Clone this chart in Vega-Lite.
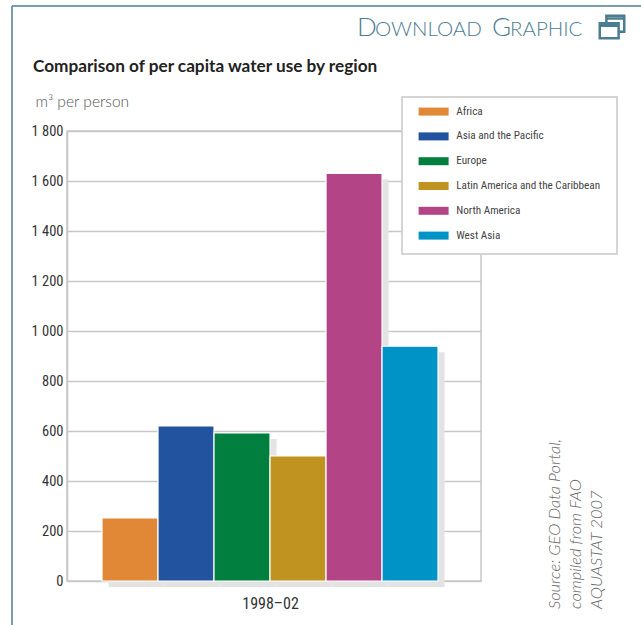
{
"$schema":"https://vega.github.io/schema/vega-lite/v6.json",
"width":414,"height":450,
"autosize":{"type":"none"},
"padding":{"left":67,"top":131,"right":160,"bottom":44},
"background":"white",
"config":{"view":{"stroke":"#c8c8c8","strokeWidth":1.5}},
"title":{"text":"Comparison of per capita water use by region","anchor":"start","frame":"group","dx":-34,"offset":-70,"font":"Lato","fontWeight":"bold","fontSize":17.2,"color":"#222222"},
"data":{"values":[
{"period":"1998–02","region":"Africa","use":252},
{"period":"1998–02","region":"Asia and the Pacific","use":620},
{"period":"1998–02","region":"Europe","use":592},
{"period":"1998–02","region":"Latin America and the Caribbean","use":500},
{"period":"1998–02","region":"North America","use":1630},
{"period":"1998–02","region":"West Asia","use":939}
]},
"layer":[
{"mark":{"type":"bar","color":"#e3e3e3","xOffset":6.5,"yOffset":6},
 "encoding":{
  "x":{"field":"region","type":"nominal","sort":null,"scale":{"paddingInner":0,"paddingOuter":0.696,"align":0.449},
   "axis":{"title":"1998–02","titleFont":"Roboto Condensed, Roboto","titleFontWeight":"normal","titleFontSize":16,"titleColor":"#333333","titleX":203,"titleY":14,"labels":false,"ticks":false,"domain":false,"grid":false}},
  "y":{"field":"use","type":"quantitative","scale":{"domain":[0,1800]},
   "axis":{"values":[0,200,400,600,800,1000,1200,1400,1600,1800],"labelExpr":"replace(format(datum.value,','),',',' ')","labelFont":"Roboto Condensed, Roboto","labelFontSize":14.5,"labelColor":"#333333","labelPadding":4,"ticks":false,"domainColor":"#c8c8c8","domainWidth":1.5,"gridColor":"#c8c8c8","gridWidth":1.5,"grid":true,
    "title":"m³ per person","titleAngle":0,"titleAlign":"left","titleBaseline":"alphabetic","titleX":-32,"titleY":-25,"titleFont":"Lato","titleFontWeight":300,"titleFontSize":15.5,"titleColor":"#555555"}}
 }},
{"mark":{"type":"bar","stroke":"white","strokeWidth":1.2},
 "encoding":{
  "x":{"field":"region","type":"nominal","sort":null},
  "y":{"field":"use","type":"quantitative"},
  "color":{"field":"region","type":"nominal","sort":null,
   "scale":{"domain":["Africa","Asia and the Pacific","Europe","Latin America and the Caribbean","North America","West Asia"],"range":["#e08835","#21539e","#007f3e","#c09320","#b34486","#0094c6"]},
   "legend":{"title":null,"orient":"none","legendX":361,"legendY":-25,"direction":"vertical",
    "symbolType":"M-3.75,-1H3.75V1H-3.75Z","symbolSize":64,"symbolStrokeWidth":0,"symbolOpacity":1,
    "labelFont":"Roboto Condensed, Roboto","labelFontSize":11.2,"labelColor":"#444444","labelOffset":17,"labelLimit":200,"rowPadding":12.8,"padding":0,"offset":0}}
 }},
{"data":{"values":[{"t":"box"}]},
 "mark":{"type":"rect","fill":"white","stroke":"#c8c8c8","strokeWidth":1.5},
 "encoding":{"x":{"value":335},"x2":{"value":550},"y":{"value":-34},"y2":{"value":123}}},
{"data":{"values":[{"note":"Source"}]},
 "mark":{"type":"text","text":["Source: GEO Data Portal,","compiled from FAO","AQUASTAT 2007"],"angle":270,"align":"left","baseline":"alphabetic","font":"Lato","fontStyle":"italic","fontWeight":300,"fontSize":16.5,"lineHeight":21,"color":"#666666"},
 "encoding":{"x":{"value":493},"y":{"value":478}}},
{"data":{"values":[{"t":"D"}]},
 "mark":{"type":"text","align":"left","baseline":"alphabetic","font":"Lato","fontWeight":300,"fontSize":26,"color":"#4b7d92"},
 "encoding":{"text":{"field":"t"},"x":{"value":290},"y":{"value":-95}}},
{"data":{"values":[{"t":"G"}]},
 "mark":{"type":"text","align":"left","baseline":"alphabetic","font":"Lato","fontWeight":300,"fontSize":26,"color":"#4b7d92"},
 "encoding":{"text":{"field":"t"},"x":{"value":425},"y":{"value":-95}}},
{"data":{"values":[{"t":"OWNLOAD"}]},
 "mark":{"type":"text","align":"left","baseline":"alphabetic","font":"Lato","fontWeight":300,"fontSize":20.5,"color":"#4b7d92"},
 "encoding":{"text":{"field":"t"},"x":{"value":308},"y":{"value":-95}}},
{"data":{"values":[{"t":"RAPHIC"}]},
 "mark":{"type":"text","align":"left","baseline":"alphabetic","font":"Lato","fontWeight":300,"fontSize":20.5,"color":"#4b7d92"},
 "encoding":{"text":{"field":"t"},"x":{"value":443},"y":{"value":-95}}},
{"data":{"values":[{"t":"icon"}]},
 "mark":{"type":"point","filled":false,"color":"#4b7d92","opacity":1,"strokeWidth":2.5,"size":600,"shape":"M-0.46,-0.31V-0.92H1V0.38H0.54M-0.46,-0.7H1M-1,-0.31H0.54V0.92H-1ZM-1,-0.1H0.54"},
 "encoding":{"x":{"value":545},"y":{"value":-104}}},
{"data":{"values":[{"t":"frame"}]},
 "mark":{"type":"rule","color":"#4b7d92","strokeWidth":1.5},
 "encoding":{"x":{"value":-55},"y":{"value":-125},"y2":{"value":494}}},
{"data":{"values":[{"t":"frame"}]},
 "mark":{"type":"rule","color":"#4b7d92","strokeWidth":1.5},
 "encoding":{"x":{"value":-55},"x2":{"value":574},"y":{"value":-125}}}
]
}
